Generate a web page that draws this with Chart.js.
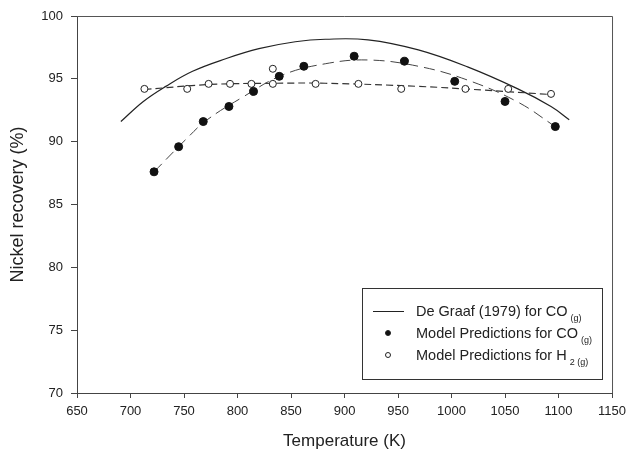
<!DOCTYPE html>
<html>
<head>
<meta charset="utf-8">
<script src="https://cdn.jsdelivr.net/npm/chart.js@4.4.1/dist/chart.umd.min.js"></script>
<style>
  html, body { margin: 0; padding: 0; background: #fff; }
  #wrap { position: relative; width: 632px; height: 452px; }
  #legend {
    position: absolute; left: 362px; top: 288px; width: 241px; height: 92px;
    border: 1px solid #333; box-sizing: border-box;
    font-family: "Liberation Sans", Arial, sans-serif; font-size: 14.5px; color: #222;
  }
  .row { position: absolute; left: 0; width: 100%; height: 18px; line-height: 18px; }
  .row .txt { position: absolute; left: 53px; white-space: nowrap; }
  .row sub { font-size: 9px; vertical-align: -5px; margin-left: 3px; }
  .sw-line { position: absolute; left: 10px; top: 9px; width: 31px; border-top: 1px solid #222; }
  .sw-dot { position: absolute; left: 22px; top: 6px; width: 6px; height: 6px; border-radius: 50%; box-sizing: border-box; border: 1px solid #222; }
</style>
</head>
<body>
<div id="wrap">
  <canvas id="chart" width="632" height="452"></canvas>
  <div id="legend">
    <div class="row" style="top:13px"><span class="sw-line"></span><span class="txt">De Graaf (1979) for CO<sub>(g)</sub></span></div>
    <div class="row" style="top:35px"><span class="sw-dot" style="background:#111"></span><span class="txt">Model Predictions for CO<sub>(g)</sub></span></div>
    <div class="row" style="top:57px"><span class="sw-dot" style="background:#fff"></span><span class="txt">Model Predictions for H<sub>2 (g)</sub></span></div>
  </div>
</div>
<script>
/* ---- dados ---- */
const xTicks = [650, 700, 750, 800, 850, 900, 950, 1000, 1050, 1100, 1150];
const yTicks = [70, 75, 80, 85, 90, 95, 100];

// De Graaf (1979), curva contínua
const graafT = [691, 712, 733, 758, 789, 820, 854, 882, 922, 969, 1015, 1062, 1093, 1110];
const graafR = [91.6, 93.2, 94.4, 95.6, 96.6, 97.4, 97.95, 98.15, 98.1, 97.3, 95.95, 94.2, 92.8, 91.75];

// Modelo CO(g) – pontos
const coT = [722, 745, 768, 792, 815, 839, 862, 909, 956, 1003, 1050, 1097];
const coR = [87.6, 89.6, 91.6, 92.8, 94.0, 95.2, 96.0, 96.8, 96.4, 94.8, 93.2, 91.2];
// ajuste CO(g) – tracejado
const coFitT = [722, 752, 771, 805, 842, 882, 922, 969, 1015, 1062, 1097];
const coFitR = [87.6, 90.2, 91.7, 93.55, 95.3, 96.2, 96.5, 96.0, 94.9, 93.15, 91.2];

// Modelo H2(g) – pontos
const h2T = [713, 753, 773, 793, 813, 833, 833, 873, 913, 953, 1013, 1053, 1093];
const h2R = [94.2, 94.2, 94.6, 94.6, 94.6, 95.8, 94.6, 94.6, 94.6, 94.2, 94.2, 94.2, 93.8];
// ajuste H2(g) – tracejado
const h2FitT = [713, 774, 836, 882, 969, 1031, 1093];
const h2FitR = [94.15, 94.55, 94.65, 94.65, 94.4, 94.1, 93.75];

const pts = (xs, ys) => xs.map((x, i) => ({ x, y: ys[i] }));
const FONT = "'Liberation Sans', Arial, sans-serif";

const frame = {
  id: 'frame',
  afterDraw(chart) {
    const { ctx, chartArea: a } = chart;
    ctx.save();
    ctx.strokeStyle = '#555';
    ctx.lineWidth = 1;
    ctx.beginPath();
    ctx.moveTo(a.left, a.top + 0.5);
    ctx.lineTo(a.right + 0.5, a.top + 0.5);
    ctx.lineTo(a.right + 0.5, a.bottom);
    ctx.stroke();
    ctx.restore();
  }
};

new Chart(document.getElementById('chart'), {
  type: 'scatter',
  data: {
    datasets: [
      {
        label: 'Model Predictions for CO(g)',
        data: pts(coT, coR),
        backgroundColor: '#111',
        borderColor: '#111',
        pointRadius: 4,
        borderWidth: 1,
      },
      {
        label: 'Model Predictions for H2(g)',
        data: pts(h2T, h2R),
        backgroundColor: '#fff',
        borderColor: '#222',
        pointRadius: 3.5,
        borderWidth: 1,
      },
      {
        label: 'De Graaf (1979) for CO(g)',
        data: pts(graafT, graafR),
        showLine: true,
        borderColor: '#222',
        borderWidth: 1.2,
        pointRadius: 0,
        tension: 0.4,
      },
      {
        label: 'CO fit',
        data: pts(coFitT, coFitR),
        showLine: true,
        borderColor: '#444',
        borderWidth: 1,
        borderDash: [11, 6],
        pointRadius: 0,
        tension: 0.4,
      },
      {
        label: 'H2 fit',
        data: pts(h2FitT, h2FitR),
        showLine: true,
        borderColor: '#333',
        borderWidth: 1.2,
        borderDash: [7, 4],
        pointRadius: 0,
        tension: 0.4,
      },
    ],
  },
  options: {
    responsive: false,
    animation: false,
    layout: { padding: { top: 16, right: 17, left: 0, bottom: 0 } },
    plugins: { legend: { display: false }, tooltip: { enabled: false } },
    scales: {
      x: {
        type: 'linear',
        min: 650, max: 1150,
        afterBuildTicks: s => { s.ticks = xTicks.map(v => ({ value: v })); },
        afterFit: s => { s.height = 59; },
        grid: { drawOnChartArea: false, drawTicks: true, tickLength: 5, color: '#444' },
        border: { color: '#444', width: 1 },
        ticks: { color: '#222', padding: 6, maxRotation: 0, callback: v => String(v), font: { family: FONT, size: 13 } },
        title: { display: true, text: 'Temperature (K)', color: '#222', padding: { top: 1, bottom: 0 }, font: { family: FONT, size: 17 } },
      },
      y: {
        min: 70, max: 100,
        afterBuildTicks: s => { s.ticks = yTicks.map(v => ({ value: v })); },
        afterFit: s => { s.width = 77; },
        grid: { drawOnChartArea: false, drawTicks: true, tickLength: 6, color: '#444' },
        border: { color: '#444', width: 1 },
        ticks: { color: '#222', padding: 8, callback: v => String(v), font: { family: FONT, size: 13 } },
        title: { display: true, text: 'Nickel recovery (%)', color: '#222', padding: { top: 7, bottom: 0 }, font: { family: FONT, size: 18 } },
      },
    },
  },
  plugins: [frame],
});
</script>
</body>
</html>
